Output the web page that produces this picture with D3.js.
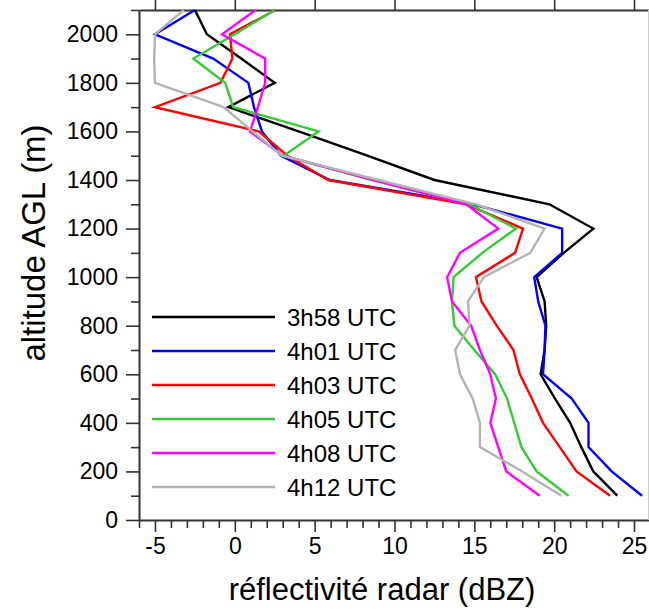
<!DOCTYPE html>
<html>
<head>
<meta charset="utf-8">
<script src="https://cdn.jsdelivr.net/npm/d3@7"></script>
<style>
  html, body { margin: 0; padding: 0; background: #fff; }
  svg { display: block; font-family: "Liberation Sans", Arial, sans-serif; }
</style>
</head>
<body>
<svg id="chart" width="649" height="610"></svg>
<script>
// ---- data ----
const altitudes = [100,200,300,400,500,600,700,800,900,1000,1100,1200,1300,1400,1500,1600,1700,1800,1900,2000,2100];
const seriesNames = ["3h58 UTC","4h01 UTC","4h03 UTC","4h05 UTC","4h08 UTC","4h12 UTC"];
const seriesColors = ["#000000","#0000ff","#ff0000","#33cc33","#ff00ff","#b4b4b4"];
const s0358 = [23.95,22.45,21.7,21.0,20.05,19.15,19.4,19.5,19.4,18.9,20.6,22.45,19.7,12.5,8.3,4.0,-0.4,2.5,0.4,-1.75,-2.5];
const s0401 = [25.5,23.6,22.15,22.15,21.1,19.3,19.4,19.45,19.0,18.75,20.5,20.5,14.9,5.95,2.9,1.7,1.2,0.85,-1.35,-5.0,-2.5];
const s0403 = [23.5,21.4,20.35,19.3,18.6,17.85,17.45,16.4,15.45,15.1,17.55,18.05,14.5,5.85,3.3,1.5,-5.0,-0.9,-0.15,-0.3,2.55];
const s0405 = [20.9,18.9,17.95,17.5,17.05,16.3,15.0,13.75,13.6,13.7,15.5,17.6,14.7,8.6,3.05,5.25,-0.1,-0.6,-2.6,0.0,2.5];
const s0408 = [19.1,17.0,16.5,16.0,16.35,16.0,15.35,14.8,13.6,13.3,14.1,16.5,14.5,8.7,3.0,0.95,1.45,1.9,1.9,-0.8,1.3];
const s0412 = [20.45,18.0,15.35,15.35,14.9,14.1,13.8,14.7,14.6,15.6,18.5,19.4,15.1,9.0,2.95,1.1,-0.7,-5.0,-5.05,-5.0,-3.2];
const seriesValues = [s0358,s0401,s0403,s0405,s0408,s0412];
const xMajorTicks = [-5,0,5,10,15,20,25];
const yMajorTicks = [0,200,400,600,800,1000,1200,1400,1600,1800,2000];
const xTitle = "réflectivité radar (dBZ)";
const yTitle = "altitude AGL (m)";

// ---- chart ----
const svg = d3.select("#chart");
const L = 139, R = 650, T = 10, B = 520;
const x = d3.scaleLinear().domain([-6, 26]).range([L, R]);
const y = d3.scaleLinear().domain([0, 2100]).range([B, T]);
const axisColor = "#333";

const xMinor = d3.range(-6, 27).filter(v => v % 5 !== 0);
const yMinor = d3.range(100, 2101, 200);

function styleAxis(g, fontSize) {
  g.selectAll("path.domain").attr("stroke", axisColor).attr("stroke-width", 2);
  g.selectAll(".tick line").attr("stroke", axisColor).attr("stroke-width", 1.6);
  g.selectAll(".tick text").attr("fill", "#000").style("font-size", fontSize + "px")
    .style("font-family", '"Liberation Sans", Arial, sans-serif');
}

// bottom axis minor
svg.append("g").attr("transform", `translate(0,${B})`)
  .call(d3.axisBottom(x).tickValues(xMinor).tickSize(8).tickSizeOuter(0).tickFormat(""))
  .call(g => { styleAxis(g, 22); g.select("path.domain").remove(); });
// bottom axis major
svg.append("g").attr("transform", `translate(0,${B})`)
  .call(d3.axisBottom(x).tickValues(xMajorTicks).tickSize(12).tickSizeOuter(0).tickPadding(6).tickFormat(d => String(d)))
  .call(g => styleAxis(g, 23));

// top axis (major ticks only)
svg.append("g").attr("transform", `translate(0,${T})`)
  .call(d3.axisTop(x).tickValues(xMajorTicks).tickSize(12).tickSizeOuter(0).tickFormat(""))
  .call(g => styleAxis(g, 22));

// left axis minor
svg.append("g").attr("transform", `translate(${L},0)`)
  .call(d3.axisLeft(y).tickValues(yMinor).tickSize(8).tickSizeOuter(0).tickFormat(""))
  .call(g => { styleAxis(g, 22); g.select("path.domain").remove(); });
// left axis major
svg.append("g").attr("transform", `translate(${L},0)`)
  .call(d3.axisLeft(y).tickValues(yMajorTicks).tickSize(13).tickSizeOuter(0).tickPadding(8).tickFormat(d => String(d)))
  .call(g => styleAxis(g, 23));

// right border
svg.append("line").attr("x1", x(26) - 1.5).attr("x2", x(26) - 1.5).attr("y1", T).attr("y2", B)
  .attr("stroke", "#ccc").attr("stroke-width", 1);

// clip
svg.append("clipPath").attr("id", "plotclip").append("rect")
  .attr("x", L).attr("y", 0).attr("width", R - L).attr("height", B);

const line = d3.line().x(d => x(d[0])).y(d => y(d[1]));
const lines = svg.append("g").attr("clip-path", "url(#plotclip)");
seriesValues.forEach((vals, i) => {
  lines.append("path")
    .datum(vals.map((v, j) => [v, altitudes[j]]))
    .attr("d", line)
    .attr("fill", "none")
    .attr("stroke", seriesColors[i])
    .attr("stroke-width", 2.4)
    .attr("stroke-linejoin", "miter");
});

// legend
const leg = svg.append("g");
seriesNames.forEach((name, i) => {
  const ly = 317 + i * 34;
  leg.append("line").attr("x1", 152).attr("x2", 275).attr("y1", ly).attr("y2", ly)
    .attr("stroke", seriesColors[i]).attr("stroke-width", 2.4);
  leg.append("text").attr("x", 287).attr("y", ly + 8.5).text(name)
    .style("font-size", "24px").attr("fill", "#000");
});

// titles
svg.append("text").attr("x", 382).attr("y", 600).attr("text-anchor", "middle")
  .style("font-size", "31px").attr("fill", "#000").text(xTitle);
svg.append("text").attr("transform", "translate(45,243) rotate(-90)").attr("text-anchor", "middle")
  .style("font-size", "33px").attr("fill", "#000").text(yTitle);
</script>
</body>
</html>
